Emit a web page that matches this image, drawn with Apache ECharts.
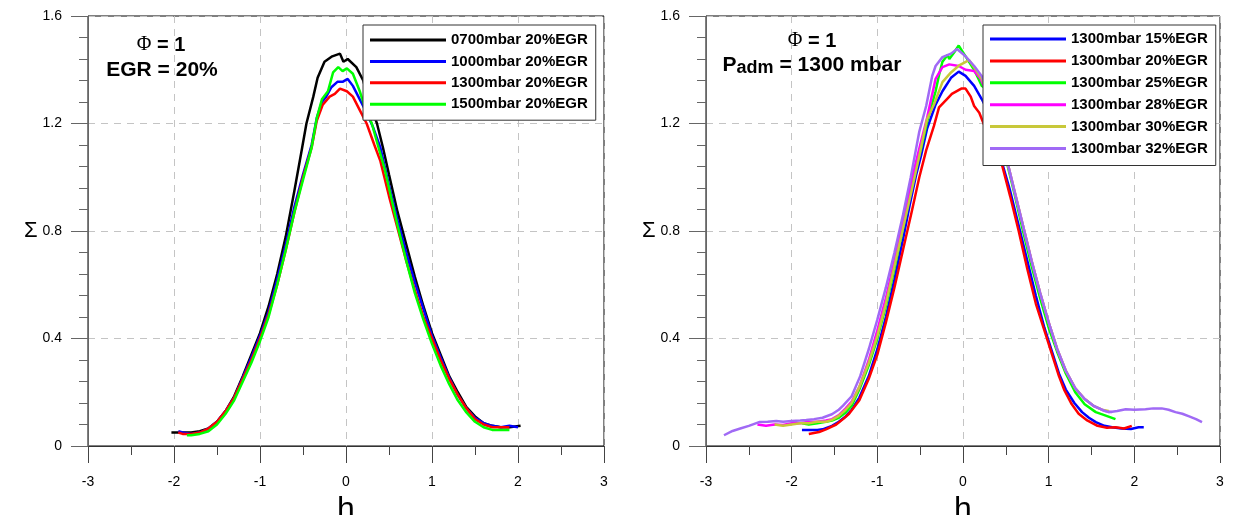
<!DOCTYPE html>
<html>
<head>
<meta charset="utf-8">
<script src="https://cdn.jsdelivr.net/npm/echarts@6/dist/echarts.min.js"></script>
<style>
html,body{margin:0;padding:0;background:#fff;}
#chart{width:1234px;height:515px;}
</style>
</head>
<body>
<div id="chart"></div>
<script>
// ---------- data (h, Sigma) ----------
const leftNames = ['0700mbar 20%EGR', '1000mbar 20%EGR', '1300mbar 20%EGR', '1500mbar 20%EGR'];
const rightNames = ['1300mbar 15%EGR', '1300mbar 20%EGR', '1300mbar 25%EGR', '1300mbar 28%EGR', '1300mbar 30%EGR', '1300mbar 32%EGR'];
const leftColors = ['#000000', '#0000ff', '#ff0000', '#00ff00'];
const rightColors = ['#0000ff', '#ff0000', '#00ff00', '#ff00ff', '#c8c83a', '#a06af5'];

const left_0700 = [[-2.03,0.05],[-1.95,0.05],[-1.9,0.05],[-1.8,0.05],[-1.7,0.055],[-1.6,0.065],[-1.5,0.09],[-1.4,0.13],[-1.3,0.185],[-1.2,0.26],[-1.1,0.34],[-1.0,0.42],[-0.9,0.52],[-0.8,0.64],[-0.7,0.78],[-0.6,0.95],[-0.51,1.11],[-0.46,1.20],[-0.38,1.30],[-0.33,1.37],[-0.25,1.43],[-0.16,1.45],[-0.07,1.46],[-0.03,1.43],[0.02,1.44],[0.12,1.41],[0.2,1.36],[0.26,1.29],[0.36,1.20],[0.43,1.11],[0.5,1.01],[0.6,0.87],[0.7,0.75],[0.8,0.63],[0.9,0.52],[1.0,0.42],[1.1,0.34],[1.2,0.26],[1.3,0.20],[1.4,0.145],[1.5,0.11],[1.6,0.085],[1.7,0.075],[1.8,0.07],[1.9,0.07],[2.03,0.075]];
const left_1000 = [[-1.95,0.055],[-1.9,0.05],[-1.8,0.045],[-1.7,0.05],[-1.6,0.065],[-1.5,0.09],[-1.4,0.13],[-1.3,0.18],[-1.2,0.255],[-1.1,0.33],[-1.0,0.41],[-0.9,0.50],[-0.8,0.62],[-0.7,0.75],[-0.6,0.89],[-0.5,1.01],[-0.4,1.12],[-0.34,1.22],[-0.28,1.28],[-0.23,1.30],[-0.17,1.335],[-0.1,1.355],[-0.04,1.355],[0.02,1.366],[0.08,1.34],[0.16,1.29],[0.24,1.24],[0.31,1.19],[0.4,1.11],[0.5,0.97],[0.6,0.84],[0.7,0.72],[0.8,0.61],[0.9,0.51],[1.0,0.41],[1.1,0.33],[1.2,0.255],[1.3,0.19],[1.4,0.14],[1.5,0.105],[1.6,0.085],[1.7,0.075],[1.8,0.07],[1.9,0.075],[2.0,0.07]];
const left_1300 = [[-1.95,0.05],[-1.9,0.045],[-1.8,0.045],[-1.7,0.05],[-1.6,0.065],[-1.5,0.09],[-1.4,0.13],[-1.3,0.18],[-1.2,0.25],[-1.1,0.32],[-1.0,0.40],[-0.9,0.49],[-0.8,0.60],[-0.7,0.73],[-0.6,0.87],[-0.5,1.0],[-0.4,1.11],[-0.34,1.21],[-0.27,1.27],[-0.19,1.30],[-0.13,1.31],[-0.07,1.33],[0.01,1.32],[0.08,1.30],[0.16,1.25],[0.24,1.20],[0.33,1.12],[0.4,1.06],[0.5,0.93],[0.6,0.81],[0.7,0.69],[0.8,0.58],[0.9,0.48],[1.0,0.40],[1.1,0.32],[1.2,0.25],[1.3,0.19],[1.4,0.14],[1.5,0.10],[1.6,0.08],[1.7,0.07],[1.8,0.07],[1.9,0.07]];
const left_1500 = [[-1.85,0.04],[-1.8,0.04],[-1.7,0.045],[-1.6,0.055],[-1.5,0.08],[-1.4,0.12],[-1.3,0.17],[-1.2,0.24],[-1.1,0.31],[-1.0,0.39],[-0.9,0.48],[-0.8,0.60],[-0.7,0.73],[-0.6,0.87],[-0.5,0.99],[-0.4,1.11],[-0.34,1.22],[-0.28,1.29],[-0.21,1.32],[-0.15,1.39],[-0.09,1.41],[-0.04,1.395],[0.01,1.405],[0.08,1.385],[0.16,1.32],[0.22,1.26],[0.3,1.20],[0.37,1.12],[0.45,1.03],[0.5,0.96],[0.6,0.82],[0.7,0.69],[0.8,0.57],[0.9,0.47],[1.0,0.38],[1.1,0.30],[1.2,0.23],[1.3,0.17],[1.4,0.125],[1.5,0.09],[1.6,0.07],[1.7,0.06],[1.8,0.06],[1.9,0.06]];

const right_15 = [[-1.88,0.06],[-1.8,0.06],[-1.7,0.06],[-1.64,0.062],[-1.53,0.075],[-1.45,0.09],[-1.37,0.11],[-1.3,0.135],[-1.21,0.18],[-1.1,0.26],[-1.0,0.36],[-0.9,0.48],[-0.8,0.62],[-0.7,0.77],[-0.62,0.90],[-0.55,1.005],[-0.49,1.08],[-0.42,1.18],[-0.32,1.27],[-0.24,1.32],[-0.14,1.37],[-0.05,1.393],[0.03,1.377],[0.13,1.34],[0.22,1.29],[0.33,1.22],[0.45,1.06],[0.55,0.95],[0.65,0.82],[0.75,0.69],[0.85,0.56],[0.95,0.44],[1.05,0.34],[1.12,0.27],[1.2,0.21],[1.3,0.16],[1.39,0.126],[1.47,0.105],[1.55,0.089],[1.65,0.075],[1.74,0.07],[1.85,0.065],[1.96,0.063],[2.05,0.07],[2.11,0.07]];
const right_20 = [[-1.8,0.045],[-1.68,0.052],[-1.6,0.062],[-1.48,0.08],[-1.4,0.10],[-1.33,0.12],[-1.21,0.17],[-1.1,0.25],[-1.0,0.34],[-0.9,0.46],[-0.8,0.59],[-0.7,0.73],[-0.6,0.87],[-0.51,1.0],[-0.43,1.10],[-0.34,1.19],[-0.28,1.26],[-0.19,1.29],[-0.13,1.31],[-0.02,1.33],[0.03,1.33],[0.09,1.30],[0.13,1.265],[0.19,1.24],[0.24,1.20],[0.3,1.155],[0.36,1.15],[0.46,1.04],[0.55,0.93],[0.65,0.80],[0.75,0.66],[0.85,0.53],[0.95,0.43],[1.05,0.33],[1.12,0.26],[1.18,0.21],[1.27,0.155],[1.35,0.12],[1.45,0.095],[1.57,0.075],[1.68,0.068],[1.78,0.07],[1.88,0.065],[1.97,0.075]];
const right_25 = [[-1.88,0.085],[-1.8,0.08],[-1.7,0.085],[-1.6,0.09],[-1.53,0.095],[-1.45,0.105],[-1.37,0.125],[-1.3,0.15],[-1.21,0.21],[-1.1,0.30],[-1.0,0.40],[-0.9,0.52],[-0.8,0.66],[-0.7,0.81],[-0.64,0.90],[-0.57,1.005],[-0.49,1.105],[-0.42,1.205],[-0.32,1.32],[-0.28,1.38],[-0.24,1.43],[-0.18,1.455],[-0.16,1.44],[-0.1,1.466],[-0.05,1.49],[0.03,1.45],[0.13,1.40],[0.22,1.34],[0.27,1.33],[0.34,1.265],[0.42,1.18],[0.51,1.057],[0.6,0.94],[0.7,0.80],[0.8,0.67],[0.9,0.55],[1.0,0.44],[1.1,0.35],[1.2,0.27],[1.31,0.20],[1.42,0.155],[1.55,0.126],[1.65,0.115],[1.78,0.10]];
const right_28 = [[-2.4,0.08],[-2.3,0.075],[-2.2,0.08],[-2.1,0.078],[-2.0,0.085],[-1.9,0.085],[-1.8,0.09],[-1.7,0.09],[-1.6,0.095],[-1.53,0.10],[-1.45,0.115],[-1.37,0.14],[-1.3,0.165],[-1.21,0.22],[-1.1,0.32],[-1.0,0.43],[-0.9,0.55],[-0.8,0.69],[-0.7,0.84],[-0.6,0.99],[-0.5,1.12],[-0.42,1.22],[-0.32,1.366],[-0.24,1.41],[-0.16,1.42],[-0.05,1.414],[0.03,1.40],[0.13,1.395],[0.2,1.37],[0.3,1.30],[0.4,1.20],[0.5,1.08],[0.6,0.95],[0.7,0.82],[0.8,0.69],[0.9,0.57],[1.0,0.46],[1.1,0.36],[1.2,0.28],[1.31,0.215],[1.42,0.175],[1.53,0.148],[1.66,0.13],[1.74,0.126]];
const right_30 = [[-2.2,0.08],[-2.1,0.075],[-2.0,0.08],[-1.9,0.085],[-1.8,0.085],[-1.7,0.09],[-1.6,0.09],[-1.53,0.097],[-1.45,0.112],[-1.37,0.135],[-1.3,0.16],[-1.21,0.22],[-1.1,0.31],[-1.0,0.41],[-0.9,0.53],[-0.8,0.67],[-0.7,0.81],[-0.6,0.95],[-0.51,1.08],[-0.42,1.216],[-0.34,1.27],[-0.24,1.354],[-0.14,1.39],[-0.05,1.415],[0.07,1.436],[0.15,1.40],[0.22,1.366],[0.3,1.31],[0.4,1.20],[0.5,1.08],[0.6,0.95],[0.7,0.82],[0.8,0.69],[0.9,0.57],[1.0,0.46],[1.1,0.36],[1.2,0.28],[1.31,0.215],[1.42,0.175],[1.53,0.148],[1.62,0.135],[1.7,0.13]];
const right_32 = [[-2.79,0.04],[-2.69,0.056],[-2.6,0.065],[-2.5,0.075],[-2.38,0.089],[-2.28,0.09],[-2.18,0.093],[-2.1,0.09],[-2.0,0.093],[-1.9,0.095],[-1.83,0.097],[-1.74,0.1],[-1.64,0.105],[-1.53,0.118],[-1.45,0.135],[-1.4,0.15],[-1.3,0.185],[-1.2,0.26],[-1.1,0.36],[-1.0,0.47],[-0.9,0.59],[-0.8,0.72],[-0.7,0.86],[-0.61,1.0],[-0.51,1.17],[-0.43,1.265],[-0.36,1.376],[-0.32,1.414],[-0.24,1.447],[-0.14,1.46],[-0.07,1.477],[0.03,1.45],[0.13,1.414],[0.22,1.376],[0.3,1.31],[0.4,1.20],[0.5,1.08],[0.6,0.95],[0.7,0.82],[0.8,0.69],[0.9,0.57],[1.0,0.46],[1.1,0.36],[1.2,0.28],[1.31,0.215],[1.42,0.175],[1.53,0.148],[1.62,0.135],[1.7,0.126],[1.8,0.13],[1.9,0.137],[2.0,0.135],[2.13,0.137],[2.22,0.14],[2.32,0.14],[2.4,0.135],[2.48,0.126],[2.56,0.12],[2.64,0.11],[2.72,0.1],[2.79,0.089]];

const leftData = [left_0700, left_1000, left_1300, left_1500];
const rightData = [right_15, right_20, right_25, right_28, right_30, right_32];

const xTicks = {min: -3, max: 3, interval: 1};
const yTicks = {min: 0, max: 1.6, interval: 0.4};

// ---------- chart ----------
const FONT = '"Liberation Sans", Arial, sans-serif';
const chart = echarts.init(document.getElementById('chart'), null, {renderer: 'canvas'});

function xAx(i) {
  return {
    type: 'value', gridIndex: i, min: xTicks.min, max: xTicks.max, interval: xTicks.interval,
    axisLine: {show: true, onZero: false, lineStyle: {color: '#333', width: 1}},
    axisTick: {show: true, length: 17, lineStyle: {color: '#444'}},
    minorTick: {show: true, splitNumber: 2, length: 9, lineStyle: {color: '#444'}},
    splitLine: {show: true, lineStyle: {color: '#c4c4c4', type: [7, 6]}},
    axisLabel: {margin: 29, fontSize: 14, color: '#000', fontFamily: FONT},
    name: 'h', nameLocation: 'middle', nameGap: 42,
    nameTextStyle: {fontSize: 32, color: '#000', fontFamily: FONT}
  };
}
function yAx(i, gap) {
  return {
    type: 'value', gridIndex: i, min: yTicks.min, max: yTicks.max, interval: yTicks.interval,
    axisLine: {show: true, onZero: false, lineStyle: {color: '#666', width: 1}},
    axisTick: {show: true, length: 17, lineStyle: {color: '#666'}},
    minorTick: {show: true, splitNumber: 5, length: 9, lineStyle: {color: '#666'}},
    splitLine: {show: true, lineStyle: {color: '#c4c4c4', type: [7, 6]}},
    axisLabel: {margin: 26, fontSize: 14, color: '#000', fontFamily: FONT},
    name: 'Σ', nameLocation: 'middle', nameRotate: 0, nameGap: gap,
    nameTextStyle: {fontSize: 22, color: '#000', fontFamily: FONT, padding: [8, 0, 0, 0]}
  };
}

const series = [];
leftData.forEach((d, k) => series.push({
  name: leftNames[k], type: 'line', xAxisIndex: 0, yAxisIndex: 0, data: d,
  symbol: 'none', lineStyle: {width: 2.5, color: leftColors[k]}, itemStyle: {color: leftColors[k]}
}));
rightData.forEach((d, k) => series.push({
  name: rightNames[k], type: 'line', xAxisIndex: 1, yAxisIndex: 1, data: d,
  symbol: 'none', lineStyle: {width: 2.5, color: rightColors[k]}, itemStyle: {color: rightColors[k]}
}));

const legendBase = {
  orient: 'vertical', icon: 'rect', itemWidth: 76, itemHeight: 3,
  backgroundColor: '#fff', borderColor: '#333', borderWidth: 1, borderRadius: 0,
  selectedMode: false, top: 25,
  textStyle: {fontSize: 15, fontWeight: 'bold', color: '#000', lineHeight: 16, fontFamily: FONT}
};

const gridBase = {top: 16, height: 430, show: true, borderColor: '#000', borderWidth: 1,
  backgroundColor: 'transparent', containLabel: false, outerBoundsMode: 'none'};

const option = {
  animation: false,
  backgroundColor: '#fff',
  grid: [
    Object.assign({}, gridBase, {left: 88, width: 516}),
    Object.assign({}, gridBase, {left: 706, width: 514})
  ],
  xAxis: [xAx(0), xAx(1)],
  yAxis: [yAx(0, 40), yAx(1, 41)],
  legend: [
    Object.assign({}, legendBase, {data: leftNames, left: 363, itemGap: 5.4, padding: [7, 8, 8, 7]}),
    Object.assign({}, legendBase, {data: rightNames, left: 983, itemGap: 5.9, padding: [6, 8, 9, 7]})
  ],
  graphic: [
    {type: 'text', x: 161, y: 45, z: 20, style: {
      text: '{f|Φ}{b| = 1}', align: 'center', verticalAlign: 'middle',
      rich: {f: {fontSize: 20, fontFamily: '"Liberation Serif", "DejaVu Serif", serif', fill: '#000'},
             b: {fontSize: 20, fontWeight: 'bold', fontFamily: FONT, fill: '#000'}}}},
    {type: 'text', x: 162, y: 70, z: 20, style: {
      text: 'EGR = 20%', align: 'center', verticalAlign: 'middle',
      fontSize: 21, fontWeight: 'bold', fontFamily: FONT, fill: '#000'}},
    {type: 'text', x: 812, y: 41, z: 20, style: {
      text: '{f|Φ}{b| = 1}', align: 'center', verticalAlign: 'middle',
      rich: {f: {fontSize: 20, fontFamily: '"Liberation Serif", "DejaVu Serif", serif', fill: '#000'},
             b: {fontSize: 20, fontWeight: 'bold', fontFamily: FONT, fill: '#000'}}}},
    {type: 'text', x: 812, y: 65, z: 20, style: {
      text: '{p|P}{s|adm}{b| = 1300 mbar}', align: 'center', verticalAlign: 'middle',
      rich: {p: {fontSize: 21, fontWeight: 'bold', fontFamily: FONT, fill: '#000'},
             s: {fontSize: 18, fontWeight: 'bold', fontFamily: FONT, fill: '#000', padding: [6, 0, 0, 0]},
             b: {fontSize: 21, fontWeight: 'bold', fontFamily: FONT, fill: '#000'}}}}
  ],
  series: series
};
chart.setOption(option);
</script>
</body>
</html>
